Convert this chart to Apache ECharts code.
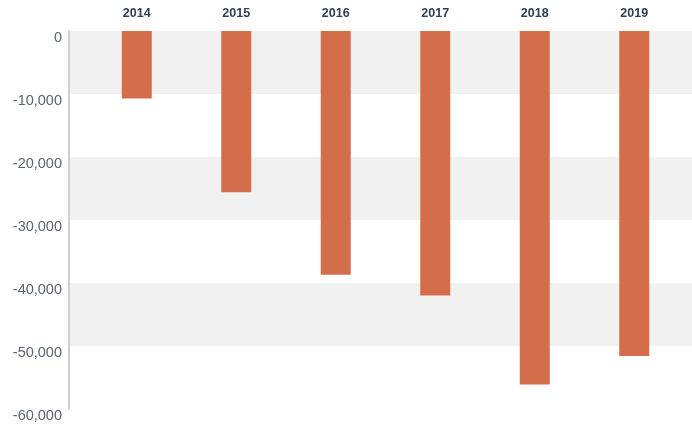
<!DOCTYPE html>
<html>
<head>
<meta charset="utf-8">
<script src="https://cdn.jsdelivr.net/npm/echarts@6/dist/echarts.min.js"></script>
<style>
  html, body { margin: 0; padding: 0; background: #ffffff; }
  #chart { width: 692px; height: 425px; }
</style>
</head>
<body>
<div id="chart"></div>
<script>
// Annual values (negative balances) per year
const years = ['2014', '2015', '2016', '2017', '2018', '2019'];
const values = [-10700, -25600, -38700, -42000, -56100, -51600];
const yMin = -60000;
const yMax = 0;
const yStep = 10000;

const chart = echarts.init(document.getElementById('chart'));

const fontFamily = 'Helvetica, "Liberation Sans", Arial, sans-serif';

chart.setOption({
  animation: false,
  backgroundColor: '#ffffff',
  grid: [
    // Background grid: banded value axis with labels
    { left: 69, right: 0, top: 31, height: 378, containLabel: false },
    // Bar grid, same vertical extent
    { left: 87, right: 8, top: 31, height: 378, containLabel: false }
  ],
  xAxis: [
    { gridIndex: 0, type: 'category', data: years, show: false },
    {
      gridIndex: 1,
      type: 'category',
      data: years,
      position: 'top',
      axisLine: { show: false },
      axisTick: { show: false },
      axisLabel: {
        margin: 11,
        color: '#2e3f52',
        fontFamily: fontFamily,
        fontWeight: 'bold',
        fontSize: 12.5
      }
    }
  ],
  yAxis: [
    {
      gridIndex: 0,
      type: 'value',
      min: yMin,
      max: yMax,
      interval: yStep,
      axisLine: { show: true, lineStyle: { color: '#cfcfcf', width: 2 } },
      axisTick: { show: false },
      splitLine: { show: false },
      splitArea: { show: true, areaStyle: { color: ['#ffffff', '#f1f1f1'] } },
      axisLabel: {
        margin: 7,
        verticalAlign: 'top',
        lineHeight: 14,
        color: '#5b6470',
        fontFamily: fontFamily,
        fontSize: 14.5,
        formatter: v => v.toLocaleString('en-US')
      }
    },
    {
      gridIndex: 1,
      type: 'value',
      min: yMin,
      max: yMax,
      interval: yStep,
      show: false,
      splitLine: { show: false }
    }
  ],
  series: [
    {
      type: 'bar',
      xAxisIndex: 1,
      yAxisIndex: 1,
      data: values,
      barWidth: 30,
      itemStyle: { color: '#d46e4a' }
    }
  ]
});
</script>
</body>
</html>
